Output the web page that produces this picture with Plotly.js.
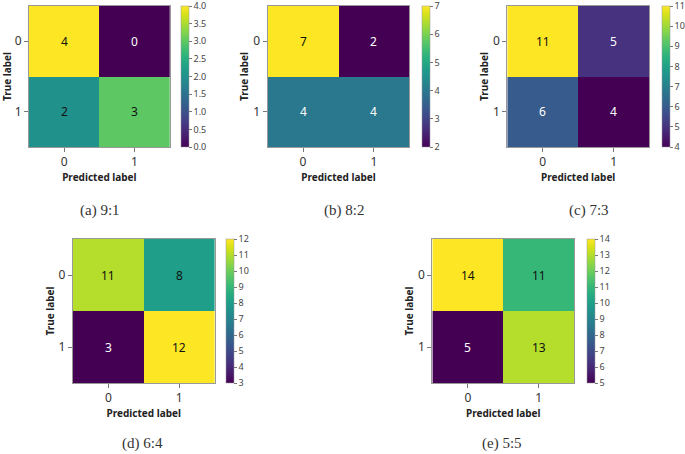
<!DOCTYPE html>
<html>
<head>
<meta charset="utf-8">
<script src="https://cdn.plot.ly/plotly-3.0.1.min.js"></script>
<style>
  body { margin: 0; background: #fff; }
  #plot { width: 685px; height: 454px; }
</style>
</head>
<body>
<div id="plot"></div>
<script>
// confusion matrices, rows = true label, cols = predicted label
var classLabels = ["0", "1"];
var cmA = [[4, 0], [2, 3]];
var cmB = [[7, 2], [4, 4]];
var cmC = [[11, 5], [6, 4]];
var cmD = [[11, 8], [3, 12]];
var cmE = [[14, 11], [5, 13]];
var captions = ["(a) 9:1", "(b) 8:2", "(c) 7:3", "(d) 6:4", "(e) 5:5"];
// colorbar tick labels per panel
var cbTicksA = ["0.0", "0.5", "1.0", "1.5", "2.0", "2.5", "3.0", "3.5", "4.0"];
var cbTicksB = ["2", "3", "4", "5", "6", "7"];
var cbTicksC = ["4", "5", "6", "7", "8", "9", "10", "11"];
var cbTicksD = ["3", "4", "5", "6", "7", "8", "9", "10", "11", "12"];
var cbTicksE = ["5", "6", "7", "8", "9", "10", "11", "12", "13", "14"];

var W = 685, H = 454;
// pixel boxes for each panel: heatmap x0,x1,y0,y1, colorbar left, caption x,y
var boxes = [
  {x0: 29, x1: 170, y0: 6, y1: 147, cb: 181, cx: 100, cy: 210},
  {x0: 268, x1: 410, y0: 6, y1: 147, cb: 422, cx: 345, cy: 210},
  {x0: 508, x1: 650, y0: 6, y1: 147, cb: 662, cx: 590, cy: 210},
  {x0: 73, x1: 215, y0: 239, y1: 383, cb: 226, cx: 143, cy: 443},
  {x0: 433, x1: 575, y0: 239, y1: 383, cb: 587, cx: 503, cy: 443}
];
var matrices = [cmA, cmB, cmC, cmD, cmE];
var cbTicks = [cbTicksA, cbTicksB, cbTicksC, cbTicksD, cbTicksE];

var font = "Noto Sans, Open Sans, sans-serif";
var traces = [];
var annotations = [];
var layout = {
  width: W, height: H,
  margin: {l: 0, r: 0, t: 0, b: 0},
  paper_bgcolor: "#fff",
  plot_bgcolor: "#fff",
  showlegend: false,
  font: {family: font, color: "#333"}
};

matrices.forEach(function(z, i) {
  var b = boxes[i];
  var n = i === 0 ? "" : String(i + 1);
  var flat = z[0].concat(z[1]);
  var zmin = Math.min.apply(null, flat);
  var zmax = Math.max.apply(null, flat);
  var mid = (zmin + zmax) / 2;

  traces.push({
    type: "heatmap",
    z: z,
    x: classLabels,
    y: classLabels,
    xaxis: "x" + n,
    yaxis: "y" + n,
    colorscale: "Viridis",
    zmin: zmin,
    zmax: zmax,
    hoverinfo: "none",
    colorbar: {
      x: b.cb / W,
      xanchor: "left",
      xpad: 0,
      ypad: 0,
      y: 1 - (b.y0 + b.y1) / 2 / H,
      yanchor: "middle",
      len: b.y1 - b.y0,
      lenmode: "pixels",
      thickness: 8,
      outlinewidth: 0.5,
      outlinecolor: "#999",
      ticks: "outside",
      ticklen: 3,
      tickwidth: 0.8,
      tickcolor: "#555",
      tickmode: "array",
      tickvals: cbTicks[i].map(Number),
      ticktext: cbTicks[i],
      ticklabeloverflow: "allow",
      tickfont: {size: 9, color: "#444", family: font}
    }
  });

  var axStyle = {
    type: "category",
    showgrid: false,
    zeroline: false,
    showline: true,
    linecolor: "#999",
    linewidth: 1,
    mirror: true,
    ticks: "outside",
    ticklen: 4,
    tickcolor: "#777",
    tickfont: {size: 12, color: "#333", family: font}
  };

  layout["xaxis" + n] = Object.assign({}, axStyle, {
    domain: [b.x0 / W, b.x1 / W],
    anchor: "y" + n,
    range: [-0.5, 1.5],
    title: {text: "Predicted label", font: {size: 10, color: "#222", family: font, weight: "bold"}, standoff: 3}
  });
  layout["yaxis" + n] = Object.assign({}, axStyle, {
    domain: [1 - b.y1 / H, 1 - b.y0 / H],
    anchor: "x" + n,
    range: [1.5, -0.5],
    title: {text: "True label", font: {size: 10, color: "#222", family: font, weight: "bold"}, standoff: 2}
  });

  // cell values, white on dark cells like matplotlib
  z.forEach(function(row, r) {
    row.forEach(function(v, c) {
      annotations.push({
        xref: "x" + n, yref: "y" + n,
        x: classLabels[c], y: classLabels[r],
        text: String(v),
        showarrow: false,
        font: {size: 12, family: font, color: v < mid ? "#fff" : "#111"}
      });
    });
  });

  annotations.push({
    xref: "paper", yref: "paper",
    x: b.cx / W, y: 1 - b.cy / H,
    xanchor: "center", yanchor: "middle",
    text: captions[i],
    showarrow: false,
    font: {size: 15, color: "#333", family: "Liberation Serif, DejaVu Serif, serif"}
  });
});

layout.annotations = annotations;

Plotly.newPlot("plot", traces, layout, {displayModeBar: false, staticPlot: true});
</script>
</body>
</html>
